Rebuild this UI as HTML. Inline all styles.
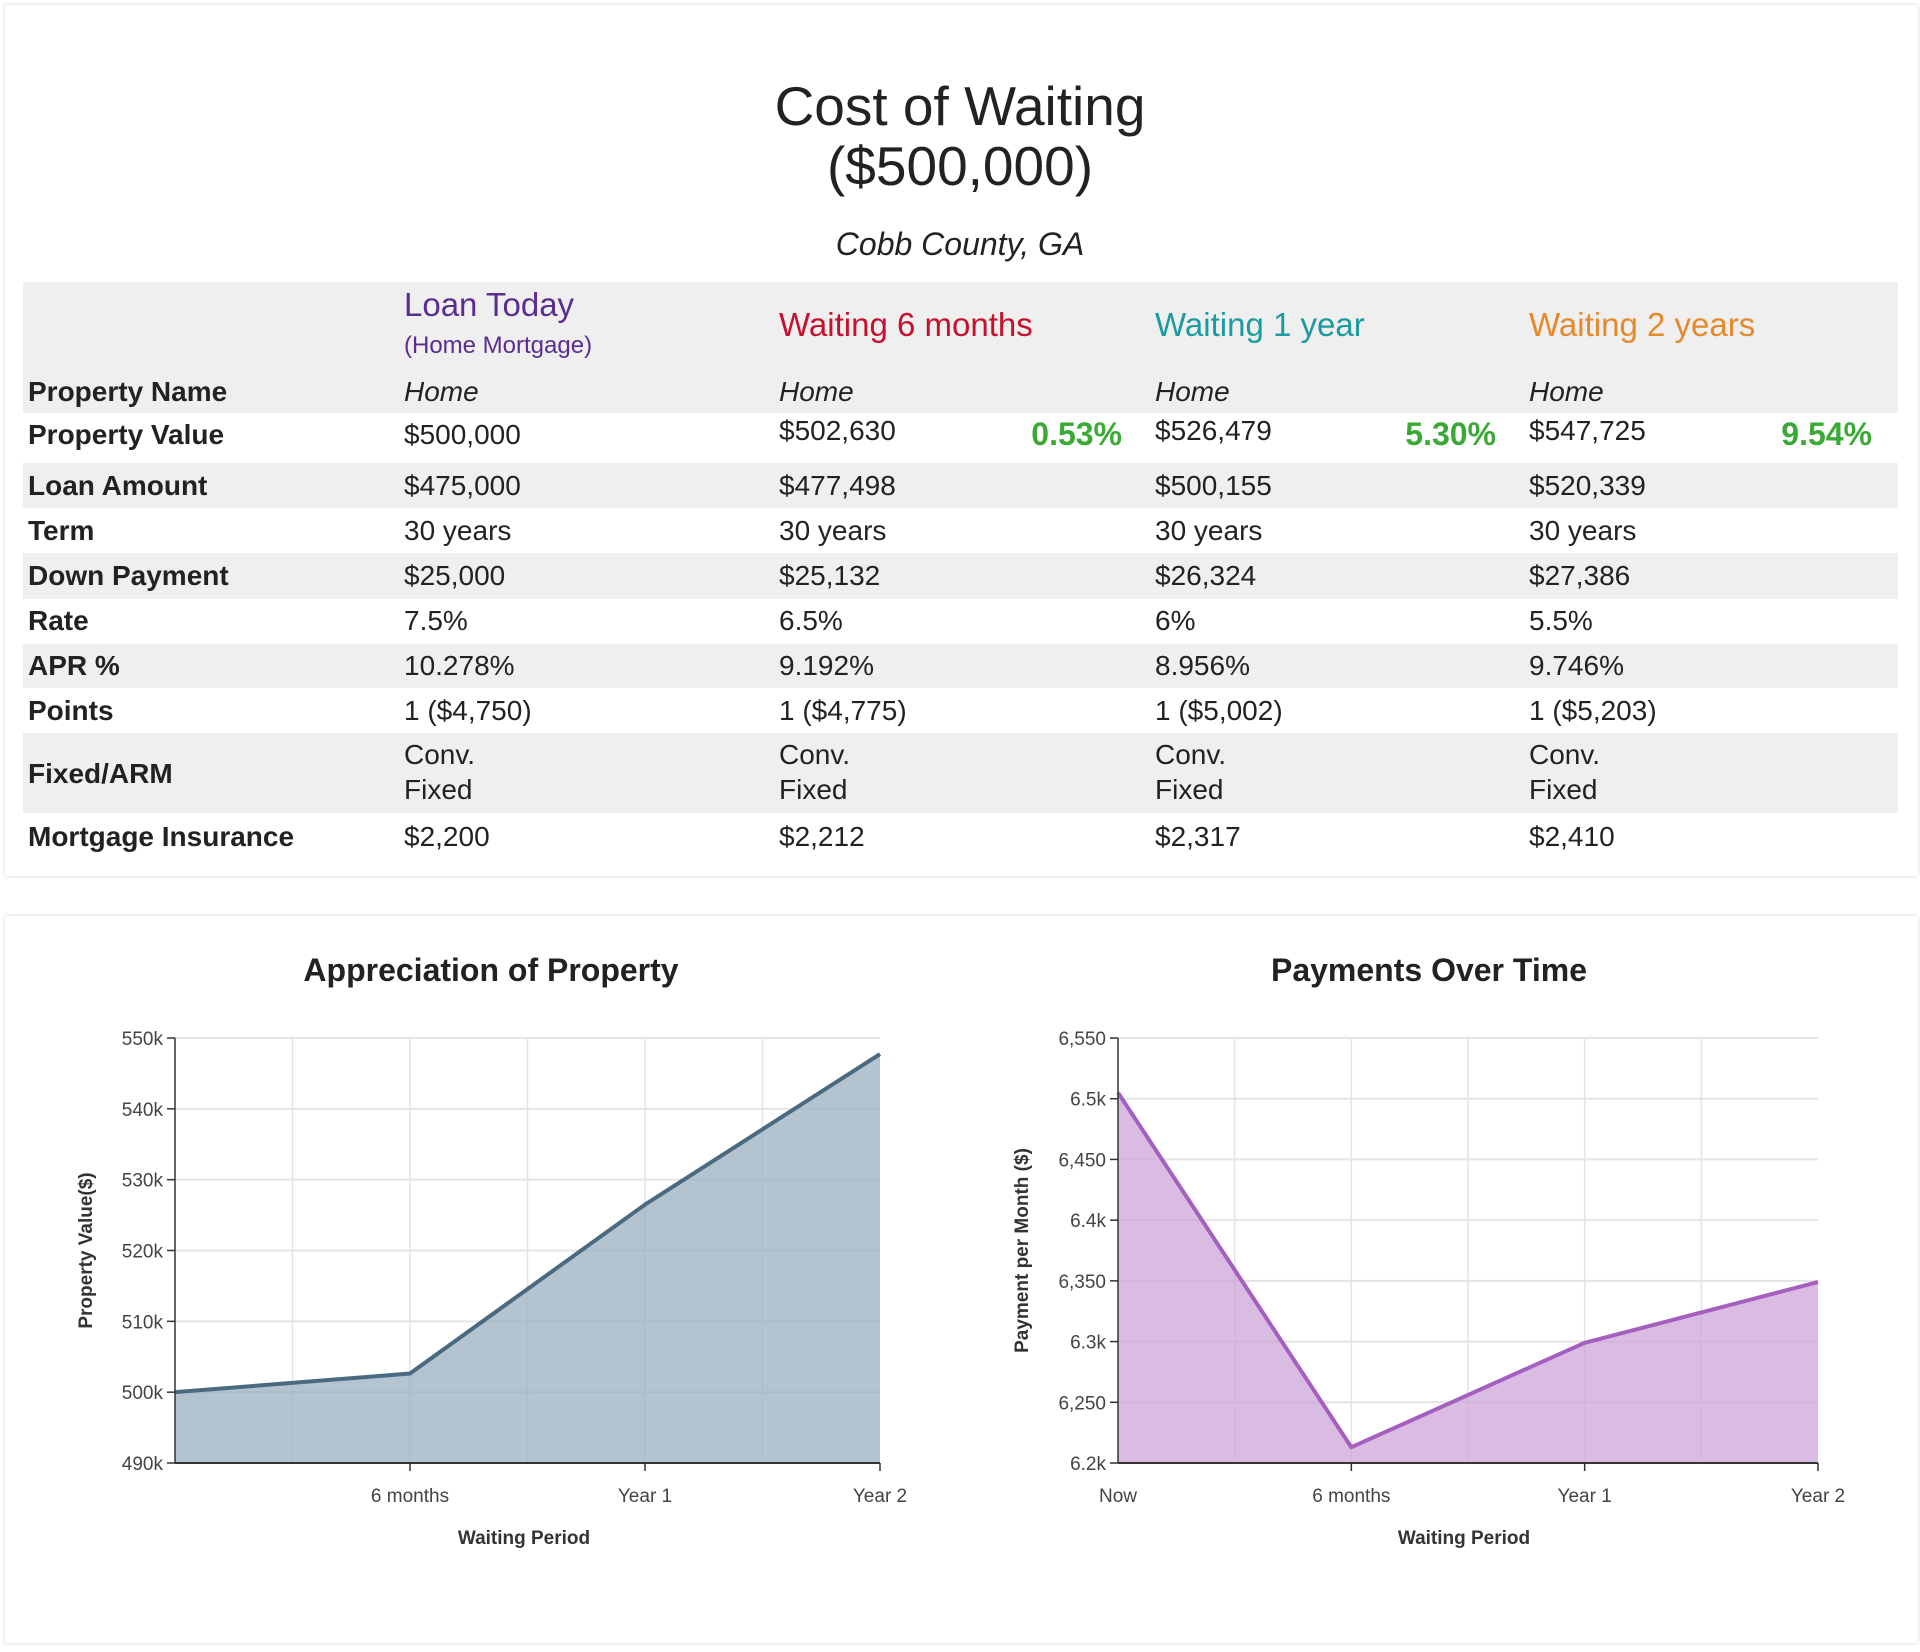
<!DOCTYPE html>
<html><head><meta charset="utf-8">
<style>
*{box-sizing:border-box;margin:0;padding:0}
body{width:1920px;height:1652px;background:#fff;font-family:"Liberation Sans",sans-serif;color:#222;position:relative;overflow:hidden}
.card{position:absolute;background:#fff;box-shadow:0 0 4px rgba(0,0,0,.18);border-radius:2px}
.t{position:absolute;white-space:nowrap}
.band{position:absolute;left:23px;width:1875px;background:#efefef}
.lbl{font-weight:bold;font-size:28px;left:28px}
.cell{font-size:28px}
.pct{font-size:32px;font-weight:bold;color:#3aa935}
</style></head><body>
<div class="card" style="left:5px;top:5px;width:1913px;height:871px"></div>
<div class="t" style="left:0;width:1920px;text-align:center;top:76px;font-size:55px;line-height:60px">Cost of Waiting<br>($500,000)</div>
<div class="t" style="left:0;width:1920px;text-align:center;top:226px;font-size:32px;font-style:italic">Cobb County, GA</div>

<div class="band" style="top:282px;height:131px"></div>
<div class="band" style="top:463px;height:45px"></div>
<div class="band" style="top:553px;height:46px"></div>
<div class="band" style="top:644px;height:44px"></div>
<div class="band" style="top:733px;height:80px"></div>

<div class="t" style="left:404px;top:286px;font-size:33px;color:#5b2d90">Loan Today</div>
<div class="t" style="left:404px;top:332px;font-size:24px;color:#5b2d90">(Home Mortgage)</div>
<div class="t" style="left:779px;top:306px;font-size:33px;color:#c8102e">Waiting 6 months</div>
<div class="t" style="left:1155px;top:306px;font-size:33px;color:#1a9ba0">Waiting 1 year</div>
<div class="t" style="left:1529px;top:306px;font-size:33px;color:#e6892a">Waiting 2 years</div>

<div id="rows"></div>

<div class="card" style="left:5px;top:916px;width:1913px;height:727px"></div>
<div class="t" style="left:291px;width:400px;text-align:center;top:952px;font-size:32px;font-weight:bold">Appreciation of Property</div>
<div class="t" style="left:1229px;width:400px;text-align:center;top:952px;font-size:32px;font-weight:bold">Payments Over Time</div>
<svg id="c1" width="1920" height="1652" style="position:absolute;left:0;top:0"></svg>

<script>
// ---- table data ----
const rowLabels=["Property Name","Property Value","Loan Amount","Term","Down Payment","Rate","APR %","Points","Fixed/ARM","Mortgage Insurance"];
const rowTops=[376,419,470,515,560,605,650,695,758,821];
const colToday=["Home","$500,000","$475,000","30 years","$25,000","7.5%","10.278%","1 ($4,750)","Conv.<br>Fixed","$2,200"];
const col6m=["Home","$502,630","$477,498","30 years","$25,132","6.5%","9.192%","1 ($4,775)","Conv.<br>Fixed","$2,212"];
const col1y=["Home","$526,479","$500,155","30 years","$26,324","6%","8.956%","1 ($5,002)","Conv.<br>Fixed","$2,317"];
const col2y=["Home","$547,725","$520,339","30 years","$27,386","5.5%","9.746%","1 ($5,203)","Conv.<br>Fixed","$2,410"];
const pcts=["0.53%","5.30%","9.54%"];
const rowsEl=document.getElementById('rows');
let h='';
rowLabels.forEach((l,i)=>{
  const top=rowTops[i];
  h+=`<div class="t lbl" style="top:${top}px">${l}</div>`;
  [[colToday,404],[col6m,779],[col1y,1155],[col2y,1529]].forEach(([c,x],j)=>{
    const it=i==0?'font-style:italic;':'';
    const lh=i==8?'line-height:35px;':'';
    let tt=(i==1&&j>0)?top-4:top;
    if(i==8) tt=737;
    h+=`<div class="t cell" style="left:${x}px;top:${tt}px;${it}${lh}">${c[i]}</div>`;
  });
});
[1122,1496,1872].forEach((x,j)=>{
  h+=`<div class="t pct" style="right:${1920-x}px;top:416px">${pcts[j]}</div>`;
});
rowsEl.innerHTML=h;
</script>

<script>
// ---- chart data ----
const cats1=["","6 months","Year 1","Year 2"];
const values1=[500000,502630,526479,547725];
const ticks1=[490000,500000,510000,520000,530000,540000,550000];
const tickLabels1=["490k","500k","510k","520k","530k","540k","550k"];
const cats2=["Now","6 months","Year 1","Year 2"];
const values2=[6505,6213,6299,6349];
const ticks2=[6200,6250,6300,6350,6400,6450,6500,6550];
const tickLabels2=["6.2k","6,250","6.3k","6,350","6.4k","6,450","6.5k","6,550"];

const svg=document.getElementById('c1');
const NS='http://www.w3.org/2000/svg';
function mk(tag,attrs,parent){const e=document.createElementNS(NS,tag);for(const k in attrs)e.setAttribute(k,attrs[k]);(parent||svg).appendChild(e);return e;}

function chart(cfg){
  const {x0,x1,y0,y1,cats,vals,ticks,labels,line,fill,ytitle,ytx,xtc,id}=cfg;
  const g=mk('g',{});
  
  
  const ymin=ticks[0],ymax=ticks[ticks.length-1];
  const sy=v=>y1-(v-ymin)/(ymax-ymin)*(y1-y0);
  const n=cats.length;
  const sx=i=>x0+i/(n-1)*(x1-x0);
  ticks.forEach((t,i)=>{
    const y=sy(t);
    const gl=mk('line',{x1:x0,x2:x1,y1:y,y2:y,stroke:'#e4e4e4','stroke-width':2},g);
    
    
    const tk=mk('line',{x1:x0-8,x2:x0,y1:y,y2:y,stroke:'#333','stroke-width':1.5},g);
    
    
    const tl=mk('text',{x:x0-12,y:y+7,'text-anchor':'end','font-size':19,fill:'#444'},g);
    tl.textContent=labels[i];
    
    
  });
  for(let k=1;k<2*(n-1);k++){
    const x=x0+k/(2*(n-1))*(x1-x0);
    const vl=mk('line',{x1:x,x2:x,y1:y0,y2:y1,stroke:'#e4e4e4','stroke-width':1.5},g);
    
    
  }
  let d='M'+sx(0)+','+sy(vals[0]);
  for(let i=1;i<n;i++)d+=' L'+sx(i)+','+sy(vals[i]);
  const area=mk('path',{d:d+' L'+sx(n-1)+','+y1+' L'+sx(0)+','+y1+' Z',fill:fill,'fill-opacity':0.75},g);
  
  
  const ln=mk('path',{d:d,fill:'none',stroke:line,'stroke-width':4,'stroke-linejoin':'round'},g);
  
  
  const ax=mk('line',{x1:x0,x2:x0,y1:y0,y2:y1,stroke:'#333','stroke-width':1.5},g);
  
  
  const bx=mk('line',{x1:x0,x2:x1,y1:y1,y2:y1,stroke:'#333','stroke-width':2},g);
  
  
  cats.forEach((c,i)=>{
    const x=sx(i);
    if(i>0){const t=mk('line',{x1:x,x2:x,y1:y1,y2:y1+8,stroke:'#333','stroke-width':1.5},g);
      
      }
    const tl=mk('text',{x:x,y:y1+39,'text-anchor':'middle','font-size':19,fill:'#444'},g);
    tl.textContent=c;
    
    
  });
  const xt=mk('text',{x:xtc,y:y1+81,'text-anchor':'middle','font-size':19,'font-weight':'bold',fill:'#333'},g);
  xt.textContent='Waiting Period';
  
  
  const cy=(y0+y1)/2;
  const yt=mk('text',{x:ytx,y:cy,'text-anchor':'middle','font-size':19,'font-weight':'bold',fill:'#333',transform:`rotate(-90 ${ytx} ${cy})`},g);
  yt.textContent=ytitle;
  
  
}
chart({id:'appreciation',x0:175,x1:880,y0:1038,y1:1463,cats:cats1,vals:values1,ticks:ticks1,labels:tickLabels1,line:'#4a6a82',fill:'#9aafbf',ytitle:'Property Value($)',ytx:92,xtc:524});
chart({id:'payments',x0:1118,x1:1818,y0:1038,y1:1463,cats:cats2,vals:values2,ticks:ticks2,labels:tickLabels2,line:'#a55fbf',fill:'#cda6d8',ytitle:'Payment per Month ($)',ytx:1028,xtc:1464});
</script>
</body></html>
